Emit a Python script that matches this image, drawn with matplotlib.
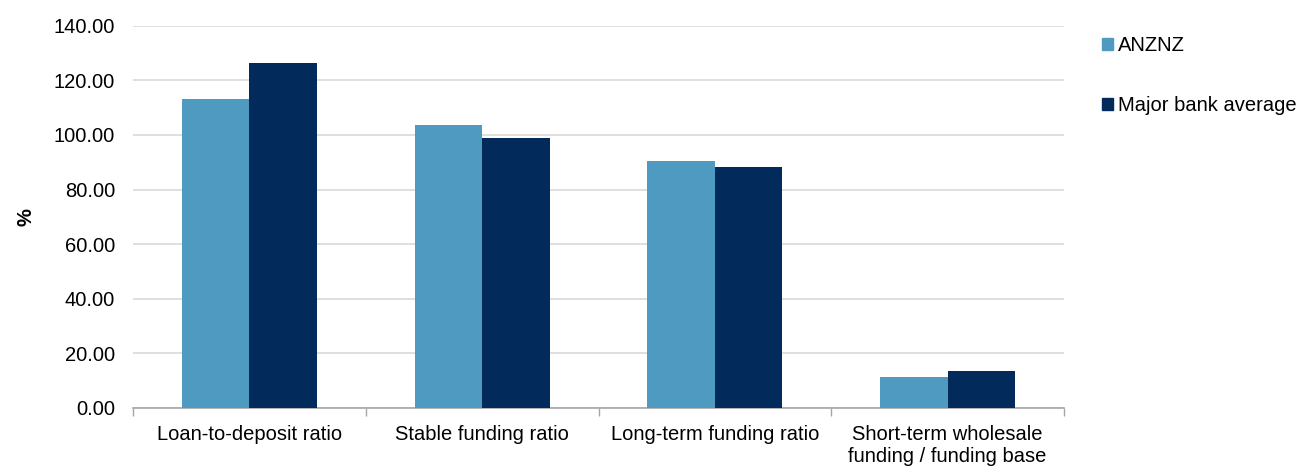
import numpy as np
import matplotlib
matplotlib.use("Agg")
import matplotlib.pyplot as plt
from matplotlib.patches import Patch

plt.rcParams['font.family'] = ['Liberation Sans', 'DejaVu Sans']

categories = ["Loan-to-deposit ratio", "Stable funding ratio",
              "Long-term funding ratio",
              "Short-term wholesale\nfunding / funding base"]
series_names = ["ANZNZ", "Major bank average"]
anznz = [113.2, 103.7, 90.4, 11.2]
major_avg = [126.5, 99.0, 88.3, 13.6]
y_ticks = [0, 20, 40, 60, 80, 100, 120, 140]

colors = ["#4f9ac1", "#022b5c"]

fig = plt.figure(figsize=(13, 4.66), dpi=100)
ax = fig.add_axes([0.1023, 0.1245, 0.7162, 0.8203])

x = np.arange(len(categories))
w = 0.29
ax.bar(x - w / 2, anznz, width=w, color=colors[0], label=series_names[0], zorder=3)
ax.bar(x + w / 2, major_avg, width=w, color=colors[1], label=series_names[1], zorder=3)

ax.set_xlim(-0.5, len(categories) - 0.5)
ax.set_ylim(0, 140)
ax.set_yticks(y_ticks)
ax.set_yticklabels(["{:.2f}".format(v) for v in y_ticks])
ax.yaxis.grid(True, color="#d9d9d9", linewidth=1.2, zorder=0)
ax.set_axisbelow(True)

ax.set_xticks(x)
ax.set_xticklabels(categories)
ax.set_xticks(np.arange(len(categories) + 1) - 0.5, minor=True)
ax.tick_params(axis='x', which='major', length=0, pad=12, labelsize=14.5, colors="#000000")
ax.tick_params(axis='x', which='minor', length=6, color="#a6a6a6", width=1)
ax.tick_params(axis='y', length=0, pad=13, labelsize=14.5)

for s in ["top", "right", "left"]:
    ax.spines[s].set_visible(False)
ax.spines["bottom"].set_color("#a6a6a6")
ax.spines["bottom"].set_linewidth(1.2)

ax.set_ylabel("%", fontsize=14.5, fontweight="bold", labelpad=13)

handles = [Patch(color=colors[0]), Patch(color=colors[1])]
fig.legend(handles, series_names, loc="upper left", bbox_to_anchor=(0.8335, 0.962),
           frameon=False, fontsize=14.5, handlelength=0.55, handleheight=0.55,
           handletextpad=0.25, labelspacing=2.05)

fig.savefig("out.png", dpi=100)
